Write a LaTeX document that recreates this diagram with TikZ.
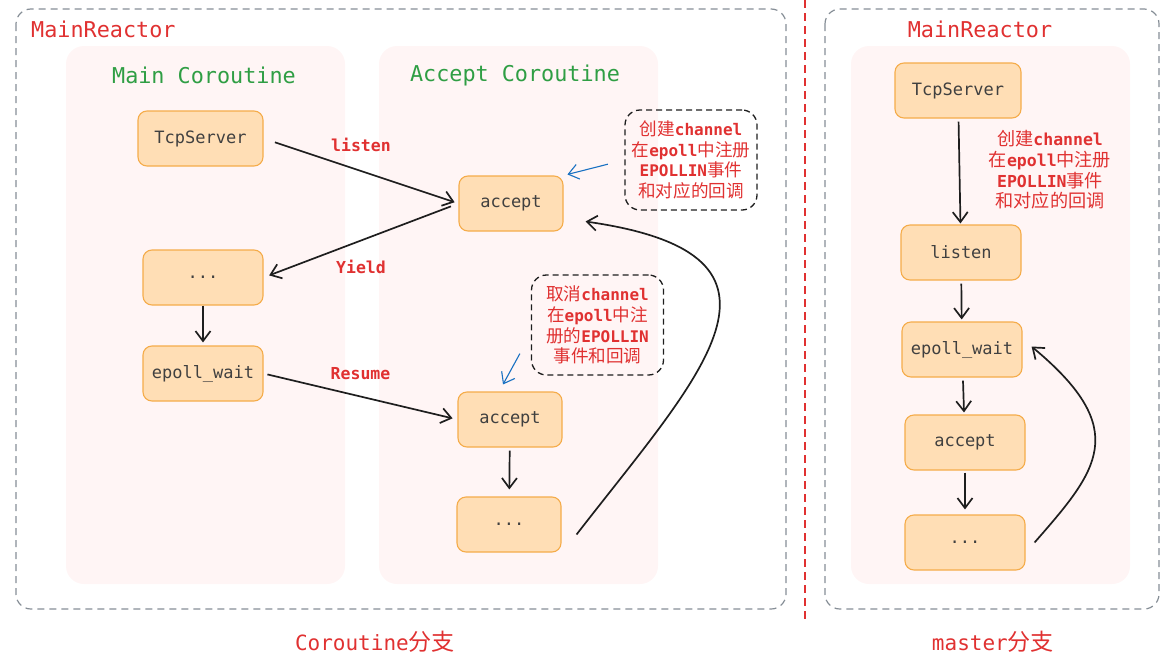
\documentclass[tikz,border=0pt]{standalone}
\usepackage{fontspec}
\setmonofont{DejaVu Sans Mono}
\newfontfamily\cjkfont[Scale=1.1]{Noto Sans CJK SC}
\usetikzlibrary{arrows.meta,positioning}

\definecolor{labelred}{HTML}{E03131}
\definecolor{titlegreen}{HTML}{2F9E44}
\definecolor{framegray}{HTML}{868E96}
\definecolor{panelpink}{HTML}{FFF5F5}
\definecolor{boxfill}{HTML}{FFDEB5}
\definecolor{boxline}{HTML}{F5AC4A}
\definecolor{boxtext}{HTML}{404040}
\definecolor{notearrow}{HTML}{1971C2}
\definecolor{inkblack}{HTML}{1E1E1E}

\newcommand{\zh}[1]{{\cjkfont\mdseries #1}}

\begin{document}
\begin{tikzpicture}[
    x=1pt, y=-1pt,
    >={Straight Barb[length=10pt,width=15pt]},
    flow/.style={->, color=inkblack, line width=1.7pt},
    pointer/.style={->, color=notearrow, line width=1.1pt},
    frame/.style={draw=framegray, line width=1.2pt, dash pattern=on 7pt off 5pt, rounded corners=15pt},
    panel/.style={fill=panelpink, rounded corners=18pt},
    block/.style={rectangle, rounded corners=9pt, draw=boxline, fill=boxfill, line width=1.1pt,
        minimum width=120pt, minimum height=55pt, text=boxtext, font=\fontsize{17}{20}\selectfont\ttfamily},
    note/.style={rectangle, rounded corners=15pt, draw=inkblack, line width=1.3pt, dash pattern=on 6pt off 4pt,
        minimum width=132pt, minimum height=100pt, align=center, text=labelred,
        font=\fontsize{16}{20.7}\selectfont\ttfamily\bfseries},
    lbl/.style={text=labelred, inner sep=0pt, align=center, font=\fontsize{16.5}{20.7}\selectfont\ttfamily\bfseries},
    title/.style={inner sep=0pt, font=\fontsize{21.8}{26}\selectfont\ttfamily}
]
    \useasboundingbox (0,0) rectangle (1171,667);

    % frames and panels
    \draw[frame] (16,9) rectangle (786,609);
    \draw[frame] (825,9) rectangle (1159,609);
    \fill[panel] (66,46) rectangle (345,584);
    \fill[panel] (379,46) rectangle (658,584);
    \fill[panel] (851,46) rectangle (1130,584);
    \draw[labelred, line width=1.2pt, dash pattern=on 8pt off 5pt] (805,0) -- (805,620);

    \node[title, text=labelred, anchor=west] (react1) at (31,29) {MainReactor};
    \node[title, text=labelred] (react2) at (980,29) {MainReactor};
    \node[title, text=titlegreen] (maincor) at (204,75) {Main Coroutine};
    \node[title, text=titlegreen] (acccor) at (515,75) {Accept Coroutine};

    % Coroutine branch
    \node[block, minimum width=125pt] (tcp1) at (200.5,138.5) {TcpServer};
    \node[block] (dots1) at (203,277.5) {...};
    \node[block] (wait1) at (203,373.5) {epoll\_wait};
    \node[block, minimum width=104pt] (acc1) at (511,203.5) {accept};
    \node[block, minimum width=104pt] (acc2) at (510,419.5) {accept};
    \node[block, minimum width=104pt] (dots2) at (509,524.5) {...};

    \node[note] (note1) at (691,160) {\zh{创建}channel\\\zh{在}epoll\zh{中注册}\\EPOLLIN\zh{事件}\\\zh{和对应的回调}};
    \node[note] (note2) at (597.5,325) {\zh{取消}channel\\\zh{在}epoll\zh{中注}\\\zh{册的}EPOLLIN\\\zh{事件和回调}};

    \path[flow]
        (tcp1.east) edge[shorten <=12pt, shorten >=4pt] node[lbl, above=18pt] {listen} (acc1.west)
        (acc1.west) edge[shorten <=8pt, shorten >=6pt] node[lbl, below=19pt] {Yield} (dots1.east)
        (dots1) edge[shorten >=3pt] (wait1)
        (wait1.east) edge[shorten <=4pt, shorten >=5pt] node[lbl, above=16pt] {Resume} (acc2.west)
        (acc2) edge[shorten <=3pt, shorten >=7pt] (dots2);
    \draw[flow] ([xshift=15pt,yshift=-10pt]dots2.east) .. controls (700,375) and (820,255) .. ([xshift=22pt,yshift=-18pt]acc1.east);

    \draw[pointer, shorten <=17pt, shorten >=4pt] (note1.west) -- (acc1.north east);
    \draw[pointer] ([xshift=-11pt,yshift=22pt]note2.south west) -- ([xshift=-7pt,yshift=7pt]acc2.north);

    % master branch
    \node[block, minimum width=126pt] (tcp2) at (958,90.5) {TcpServer};
    \node[block] (listen2) at (961,252.5) {listen};
    \node[block] (wait2) at (962,349.5) {epoll\_wait};
    \node[block] (acc3) at (965,442.5) {accept};
    \node[block] (dots3) at (965,542.5) {...};
    \node[lbl] (reg) at (1050,170) {\zh{创建}channel\\\zh{在}epoll\zh{中注册}\\EPOLLIN\zh{事件}\\\zh{和对应的回调}};

    \path[flow]
        (tcp2) edge[shorten <=3pt, shorten >=1pt] (listen2)
        (listen2) edge[shorten <=3pt, shorten >=2pt] (wait2)
        (wait2) edge[shorten <=3pt, shorten >=2pt] (acc3)
        (acc3) edge[shorten <=2pt, shorten >=5pt] (dots3);
    \draw[flow] ([xshift=9pt]dots3.east) .. controls (1098,470) and (1132,430) .. ([xshift=9pt,yshift=3pt]wait2.east);

    % captions
    \node[title, text=labelred, font=\fontsize{21}{25}\selectfont\ttfamily] (cap1) at (375,642) {Coroutine\zh{分支}};
    \node[title, text=labelred, font=\fontsize{21}{25}\selectfont\ttfamily] (cap2) at (993,642) {master\zh{分支}};
\end{tikzpicture}
\end{document}
